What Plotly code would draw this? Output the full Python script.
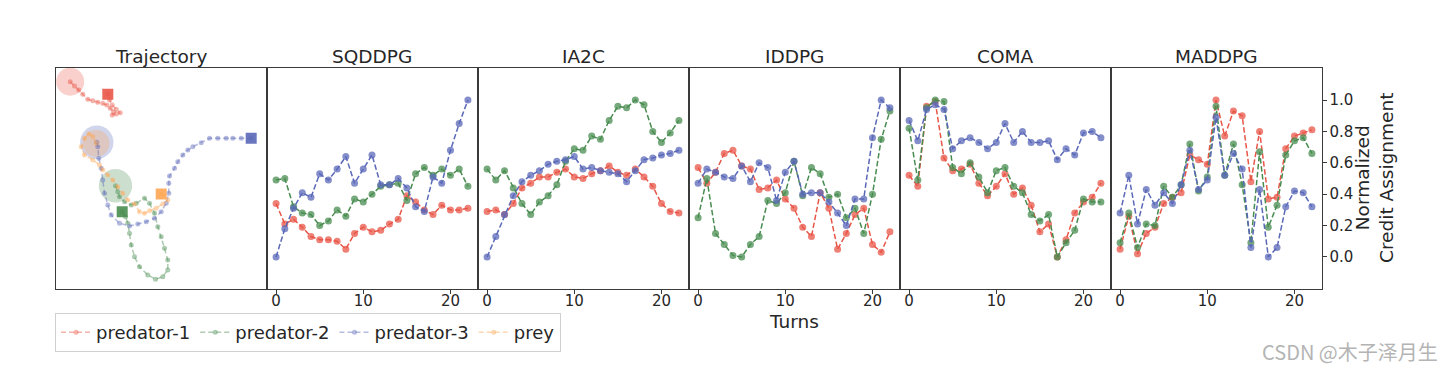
import plotly.graph_objects as go

# ---------------- data ----------------
turns = list(range(23))

sqddpg_p1 = [0.34, 0.21, 0.24, 0.19, 0.13, 0.11, 0.11, 0.10, 0.05, 0.15, 0.19, 0.16, 0.17, 0.21, 0.24, 0.39, 0.35, 0.30, 0.27, 0.33, 0.30, 0.30, 0.31]
sqddpg_p2 = [0.49, 0.50, 0.32, 0.28, 0.27, 0.20, 0.23, 0.30, 0.26, 0.37, 0.35, 0.40, 0.45, 0.46, 0.47, 0.36, 0.53, 0.57, 0.52, 0.56, 0.52, 0.56, 0.45]
sqddpg_p3 = [0.00, 0.18, 0.31, 0.41, 0.38, 0.53, 0.49, 0.56, 0.64, 0.47, 0.56, 0.65, 0.46, 0.46, 0.50, 0.44, 0.32, 0.29, 0.51, 0.47, 0.68, 0.85, 1.00]

ia2c_p1 = [0.29, 0.30, 0.27, 0.34, 0.44, 0.47, 0.51, 0.51, 0.54, 0.56, 0.51, 0.50, 0.53, 0.55, 0.58, 0.54, 0.52, 0.56, 0.51, 0.45, 0.34, 0.29, 0.28]
ia2c_p2 = [0.56, 0.49, 0.55, 0.44, 0.34, 0.27, 0.35, 0.39, 0.46, 0.61, 0.69, 0.68, 0.77, 0.75, 0.87, 0.96, 0.95, 1.00, 0.97, 0.80, 0.73, 0.79, 0.87]
ia2c_p3 = [0.00, 0.13, 0.27, 0.39, 0.48, 0.52, 0.55, 0.59, 0.61, 0.62, 0.64, 0.56, 0.57, 0.55, 0.54, 0.53, 0.48, 0.55, 0.62, 0.63, 0.65, 0.66, 0.68]

iddpg_p1 = [0.57, 0.47, 0.54, 0.66, 0.68, 0.58, 0.56, 0.43, 0.44, 0.49, 0.37, 0.31, 0.19, 0.13, 0.41, 0.31, 0.05, 0.15, 0.27, 0.31, 0.08, 0.03, 0.16]
iddpg_p2 = [0.25, 0.50, 0.15, 0.08, 0.01, 0.00, 0.08, 0.13, 0.36, 0.34, 0.41, 0.61, 0.39, 0.57, 0.53, 0.38, 0.40, 0.25, 0.31, 0.15, 0.40, 0.75, 0.93]
iddpg_p3 = [0.47, 0.56, 0.54, 0.51, 0.50, 0.58, 0.48, 0.60, 0.57, 0.36, 0.54, 0.61, 0.40, 0.41, 0.41, 0.35, 0.28, 0.20, 0.37, 0.37, 0.76, 1.00, 0.95]

coma_p1 = [0.52, 0.45, 0.96, 0.99, 0.63, 0.55, 0.56, 0.59, 0.47, 0.39, 0.45, 0.53, 0.40, 0.44, 0.33, 0.16, 0.21, 0.00, 0.11, 0.28, 0.35, 0.38, 0.47]
coma_p2 = [0.82, 0.49, 0.95, 1.00, 0.99, 0.57, 0.53, 0.60, 0.51, 0.41, 0.55, 0.57, 0.45, 0.41, 0.27, 0.23, 0.27, 0.00, 0.09, 0.17, 0.37, 0.35, 0.35]
coma_p3 = [0.87, 0.74, 0.94, 0.97, 0.94, 0.69, 0.74, 0.76, 0.73, 0.69, 0.73, 0.85, 0.73, 0.80, 0.73, 0.73, 0.74, 0.62, 0.69, 0.65, 0.79, 0.80, 0.76]

maddpg_p1 = [0.05, 0.26, 0.02, 0.15, 0.19, 0.34, 0.38, 0.41, 0.65, 0.62, 0.59, 1.00, 0.77, 0.93, 0.90, 0.48, 0.80, 0.37, 0.38, 0.69, 0.77, 0.79, 0.81]
maddpg_p2 = [0.09, 0.28, 0.06, 0.21, 0.20, 0.45, 0.38, 0.46, 0.72, 0.42, 0.51, 0.96, 0.52, 0.72, 0.46, 0.09, 0.67, 0.19, 0.33, 0.65, 0.74, 0.76, 0.66]
maddpg_p3 = [0.28, 0.52, 0.21, 0.43, 0.33, 0.41, 0.34, 0.46, 0.68, 0.43, 0.49, 0.89, 0.52, 0.66, 0.56, 0.06, 0.43, 0.00, 0.06, 0.32, 0.42, 0.41, 0.32]

methods = ["SQDDPG", "IA2C", "IDDPG", "COMA", "MADDPG"]
method_series = [
    (sqddpg_p1, sqddpg_p2, sqddpg_p3),
    (ia2c_p1, ia2c_p2, ia2c_p3),
    (iddpg_p1, iddpg_p2, iddpg_p3),
    (coma_p1, coma_p2, coma_p3),
    (maddpg_p1, maddpg_p2, maddpg_p3),
]

# trajectory (arena coordinates)
traj_p1_x = [14.7, 19.0, 23.3, 27.3, 32.3, 37.3, 42.3, 47.3, 51.3, 54.7, 58.0, 56.7, 60.7, 64.7, 60.7, 56.7, 54.0, 52.3]
traj_p1_y = [207.3, 203.0, 199.0, 194.7, 189.7, 188.3, 186.7, 185.7, 184.0, 180.7, 177.3, 174.0, 175.0, 176.3, 179.7, 184.0, 189.0, 194.7]
traj_p2_x = [60.0, 62.3, 64.0, 69.0, 75.7, 80.7, 89.0, 94.0, 99.0, 102.3, 105.7, 109.0, 112.3, 112.3, 107.3, 100.0, 92.3, 84.0, 79.0, 75.7, 74.0, 72.3, 70.0, 66.7]
traj_p2_y = [103.3, 97.3, 92.3, 87.3, 84.0, 85.7, 90.7, 85.7, 75.7, 62.3, 52.3, 40.7, 29.0, 19.0, 12.3, 9.7, 14.0, 22.3, 32.3, 44.0, 55.7, 65.7, 72.3, 77.3]
traj_p3_x = [41.3, 42.3, 43.3, 45.7, 47.3, 49.0, 52.3, 55.7, 64.0, 74.0, 82.3, 90.7, 99.0, 105.7, 110.7, 113.3, 113.3, 114.0, 119.0, 122.3, 127.3, 132.3, 137.3, 145.7, 154.0, 162.3, 170.7, 177.3, 185.7, 195.7]
traj_p3_y = [146.7, 142.3, 130.7, 120.7, 109.0, 95.7, 84.0, 74.0, 65.7, 63.0, 65.0, 67.3, 70.7, 77.3, 85.7, 95.7, 105.7, 113.0, 120.7, 127.3, 134.0, 139.0, 142.3, 146.3, 150.7, 150.7, 150.7, 150.7, 150.7, 150.7]
traj_prey_x = [40.7, 37.3, 33.3, 29.0, 25.7, 29.0, 37.3, 44.0, 47.3, 52.3, 57.3, 62.3, 67.3, 72.3, 79.0, 84.0, 89.0, 94.0, 100.7, 107.3, 112.3, 105.7]
traj_prey_y = [145.7, 152.3, 155.0, 150.7, 142.3, 134.0, 129.0, 124.0, 119.0, 114.0, 109.0, 102.3, 95.7, 89.0, 85.0, 77.3, 75.7, 78.3, 80.7, 85.0, 89.0, 95.0]
start_radius = [14.0, 16.7, 16.7, 13.3]  # p1, p2, p3, prey (arena units ~ px)

agent_names = ["predator-1", "predator-2", "predator-3", "prey"]
y_ticks = [0.0, 0.2, 0.4, 0.6, 0.8, 1.0]
x_ticks = [0, 10, 20]

# ---------------- style ----------------
RGB = [(232, 86, 72), (72, 140, 80), (90, 104, 184), (255, 166, 84)]
def rgba(c, a):
    return "rgba(%d,%d,%d,%.2f)" % (c[0], c[1], c[2], a)

W, H = 1454, 370
OFF = 8  # page body margin
def px(x):
    return (x - OFF) / W
def py(y):
    return 1 - (y - OFF) / H

edges = [55.5, 266.5, 477.5, 688.5, 899.5, 1110.5, 1321.5]
top_px, bot_px = 68, 289
ydom = [py(bot_px), py(top_px)]
FONT = "DejaVu Sans"
AX_COL = "#3a3a3a"
TXT = "#262626"

fig = go.Figure()
layout = dict(
    width=W, height=H, autosize=False,
    margin=dict(l=0, r=0, t=0, b=0),
    paper_bgcolor="white", plot_bgcolor="white",
    font=dict(family=FONT, size=15, color=TXT),
    showlegend=True,
    legend=dict(
        orientation="h", x=px(55), y=py(313), xanchor="left", yanchor="top",
        bordercolor="#d0d0d0", borderwidth=1, bgcolor="white",
        font=dict(size=18, family=FONT, color=TXT),
        itemwidth=30, tracegroupgap=0,
    ),
)

# Trajectory panel (axis 1)
layout["xaxis"] = dict(domain=[px(edges[0]), px(edges[1])], range=[0, 211], showgrid=False, zeroline=False,
                       showticklabels=False, ticks="", showline=True, mirror=True, linecolor=AX_COL, linewidth=1)
layout["yaxis"] = dict(domain=ydom, range=[0, 221], showgrid=False, zeroline=False, anchor="x",
                       showticklabels=False, ticks="", showline=True, mirror=True, linecolor=AX_COL, linewidth=1)

trajs = [(traj_p1_x, traj_p1_y), (traj_p2_x, traj_p2_y), (traj_p3_x, traj_p3_y), (traj_prey_x, traj_prey_y)]
for i, (tx, ty) in enumerate(trajs):
    c = RGB[i]
    fig.add_trace(go.Scatter(x=[tx[0]], y=[ty[0]], mode="markers", xaxis="x", yaxis="y",
                             marker=dict(size=2 * start_radius[i], color=rgba(c, 0.28), line=dict(width=0)),
                             showlegend=False, hoverinfo="skip"))
for i, (tx, ty) in enumerate(trajs):
    c = RGB[i]
    fig.add_trace(go.Scatter(x=tx, y=ty, mode="lines+markers", xaxis="x", yaxis="y", name=agent_names[i],
                             line=dict(color=rgba(c, 0.45), width=1.5, dash="5px,3px"),
                             marker=dict(size=5, color=rgba(c, 0.45)),
                             showlegend=True))
for i, (tx, ty) in enumerate(trajs):
    c = RGB[i]
    fig.add_trace(go.Scatter(x=[tx[-1]], y=[ty[-1]], mode="markers", xaxis="x", yaxis="y",
                             marker=dict(size=11, symbol="square", color=rgba(c, 0.9), line=dict(width=0)),
                             showlegend=False, hoverinfo="skip"))

# method panels
for k, name in enumerate(methods):
    ax = k + 2
    xa, ya = "xaxis%d" % ax, "yaxis%d" % ax
    last = (k == len(methods) - 1)
    layout[xa] = dict(domain=[px(edges[k + 1]), px(edges[k + 2])], range=[-1.1, 23.1], anchor="y%d" % ax,
                      showgrid=False, zeroline=False, tickvals=x_ticks, ticks="outside", ticklen=4,
                      tickcolor=AX_COL, showline=True, mirror=True, linecolor=AX_COL, linewidth=1,
                      ticklabelstandoff=-6,
                      tickfont=dict(size=15, family=FONT, color=TXT))
    ydict = dict(domain=ydom, range=[-0.204, 1.204], anchor="x%d" % ax, showgrid=False, zeroline=False,
                 showline=True, mirror=True, linecolor=AX_COL, linewidth=1)
    if last:
        ydict.update(side="right", tickvals=y_ticks, ticktext=["%.1f" % v for v in y_ticks], ticks="outside",
                     ticklen=4, tickcolor=AX_COL, tickfont=dict(size=15, family=FONT, color=TXT))
    else:
        ydict.update(showticklabels=False, ticks="")
    layout[ya] = ydict
    for i, series in enumerate(method_series[k]):
        c = RGB[i]
        fig.add_trace(go.Scatter(x=turns, y=series, mode="lines+markers",
                                 xaxis="x%d" % ax, yaxis="y%d" % ax, name=agent_names[i],
                                 line=dict(color=rgba(c, 1.0), width=1.5, dash="5.5px,2.5px"),
                                 marker=dict(size=7, color=rgba(c, 0.75), line=dict(width=0)),
                                 showlegend=False))

annotations = []
titles = ["Trajectory"] + methods
for j, t in enumerate(titles):
    annotations.append(dict(text=t, x=px((edges[j] + edges[j + 1]) / 2), y=py(57), xref="paper", yref="paper",
                            xanchor="center", yanchor="middle", showarrow=False,
                            font=dict(size=18.5, family=FONT, color=TXT)))
annotations.append(dict(text="Turns", x=px((edges[3] + edges[4]) / 2), y=py(321), xref="paper", yref="paper",
                        xanchor="center", yanchor="middle", showarrow=False,
                        font=dict(size=18.5, family=FONT, color=TXT)))
annotations.append(dict(text="Normalized<br>Credit Assignment", x=px(1374), y=py(178), xref="paper", yref="paper",
                        xanchor="center", yanchor="middle", showarrow=False, textangle=-90,
                        font=dict(size=18.5, family=FONT, color=TXT)))
annotations.append(dict(text="CSDN @木子泽月生", x=px(1440), y=py(351), xref="paper", yref="paper",
                        xanchor="right", yanchor="middle", showarrow=False,
                        font=dict(size=20, family="Noto Sans CJK SC", color="#b4b4b4")))
layout["annotations"] = annotations

fig.update_layout(**layout)
fig.write_html("out.html")
